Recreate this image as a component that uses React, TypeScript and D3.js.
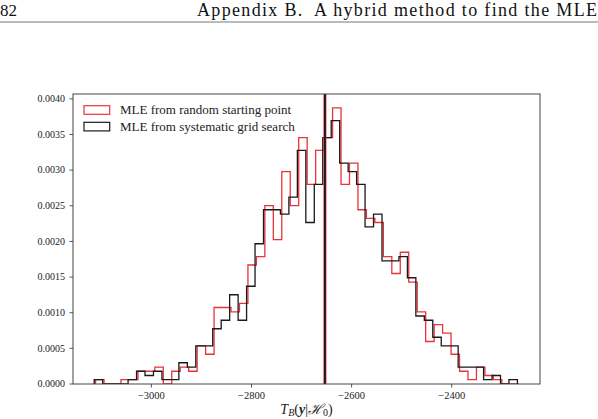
import React from 'react';
import * as d3 from 'd3';

const W = 598;
const H = 419;
const margin = { top: 94, right: 58, bottom: 35, left: 73 };

// histogram bins (density per bin)
const gridStart = -3114.2;
const randomStart = -3111.5;
const binWidth = 16.91;

const randomDensity = [
  0.00006, 0, 0, 0.00006, 0.00006, 0.000179, 0.000179, 0.000238, 0, 0.000179,
  0.000238, 0.000179, 0.000536, 0.000417, 0.001073, 0.001073, 0.001013, 0.001132, 0.001669, 0.001788,
  0.002503, 0.002026, 0.00298, 0.002503, 0.003457, 0.002801, 0.003278, 0.003457, 0.003874, 0.002801,
  0.003099, 0.002444, 0.002324, 0.002265, 0.001788, 0.00155, 0.001848, 0.00143, 0.001013, 0.000596,
  0.000834, 0.000715, 0.000417, 0.000179, 0.00006, 0.000238, 0.000119, 0.00006, 0, 0,
];

const gridDensity = [
  0.00006, 0, 0, 0, 0.00006, 0.000179, 0.000119, 0.000179, 0.00006, 0.00006,
  0.000298, 0.000238, 0.000536, 0.000536, 0.000775, 0.000894, 0.001252, 0.000894, 0.001371, 0.001967,
  0.002444, 0.002444, 0.002384, 0.002622, 0.003278, 0.002265, 0.002801, 0.003457, 0.003695, 0.003099,
  0.00298, 0.002801, 0.002205, 0.002384, 0.001728, 0.001728, 0.001788, 0.00149, 0.000954, 0.000894,
  0.000656, 0.000536, 0.000536, 0.000238, 0.000238, 0.000238, 0.00006, 0.000119, 0, 0.00006,
];

const mleValue = -2653.3;

const xTicks = [-3000, -2800, -2600, -2400];
const yTicks = [0, 0.0005, 0.001, 0.0015, 0.002, 0.0025, 0.003, 0.0035, 0.004];

const seriesNames = ['MLE from random starting point', 'MLE from systematic grid search'];
const seriesColors = ['#e8333a', '#1a1a1a'];

const font = '"Liberation Serif", "Times New Roman", serif';

export default function App() {
  const innerW = W - margin.left - margin.right;
  const innerH = H - margin.top - margin.bottom;

  const lo = Math.min(gridStart, randomStart);
  const hi = Math.max(gridStart + gridDensity.length * binWidth, randomStart + randomDensity.length * binWidth);
  const pad = (hi - lo) * 0.05;
  const x = d3.scaleLinear().domain([lo - pad, hi + pad]).range([0, innerW]);
  const yMax = d3.max([...gridDensity, ...randomDensity]) as number;
  const y = d3.scaleLinear().domain([0, yMax * 1.05]).range([innerH, 0]);

  const stepPath = (start: number, values: number[]) => {
    const pts: [number, number][] = [[start, 0]];
    values.forEach((v, i) => {
      pts.push([start + i * binWidth, v]);
      pts.push([start + (i + 1) * binWidth, v]);
    });
    pts.push([start + values.length * binWidth, 0]);
    return d3.line<[number, number]>().x((d) => x(d[0])).y((d) => y(d[1]))(pts) as string;
  };

  const fmtY = d3.format('.4f');
  const fmtX = (v: number) => (v < 0 ? '\u2212' + Math.abs(v) : String(v));

  return (
    <div style={{ position: 'fixed', left: 0, top: 0, width: W, height: H, background: '#fff' }}>
      <svg width={W} height={H} style={{ display: 'block' }} fontFamily={font}>
        {/* running page header */}
        <text x={0} y={15.5} fontSize={17} fill="#111">82</text>
        <text x={197} y={15.5} fontSize={18} fill="#111" textLength={400} lengthAdjust="spacing">
          Appendix B.{'\u2002'}A hybrid method to find the MLE
        </text>
        <line x1={0} x2={W} y1={22} y2={22} stroke="#777" strokeWidth={1} />

        <g transform={`translate(${margin.left},${margin.top})`}>
          <clipPath id="plot-clip">
            <rect x={0} y={0} width={innerW} height={innerH} />
          </clipPath>

          <g clipPath="url(#plot-clip)" fill="none" strokeWidth={1.3}>
            <path d={stepPath(randomStart, randomDensity)} stroke={seriesColors[0]} />
            <path d={stepPath(gridStart, gridDensity)} stroke={seriesColors[1]} />
            <line x1={x(mleValue)} x2={x(mleValue)} y1={0} y2={innerH} stroke={seriesColors[0]} strokeWidth={3} />
            <line x1={x(mleValue)} x2={x(mleValue)} y1={0} y2={innerH} stroke={seriesColors[1]} strokeWidth={1.8} />
          </g>

          {/* axes frame */}
          <rect x={0} y={0} width={innerW} height={innerH} fill="none" stroke="#444" strokeWidth={1} />

          {/* y axis */}
          {yTicks.map((t) => (
            <g key={t} transform={`translate(0,${y(t)})`}>
              <line x1={-3.5} x2={0} stroke="#444" strokeWidth={0.9} />
              <text x={-8} dy="0.33em" textAnchor="end" fontSize={10} fill="#222">{fmtY(t)}</text>
            </g>
          ))}

          {/* x axis */}
          {xTicks.map((t) => (
            <g key={t} transform={`translate(${x(t)},${innerH})`}>
              <line y1={0} y2={3.5} stroke="#444" strokeWidth={0.9} />
              <text y={14.5} textAnchor="middle" fontSize={10.5} fill="#222">{fmtX(t)}</text>
            </g>
          ))}

          <text x={innerW / 2} y={innerH + 29.5} textAnchor="middle" fontSize={14} fill="#222">
            <tspan fontStyle="italic">T</tspan>
            <tspan fontStyle="italic" fontSize={10} dy={2.5}>B</tspan>
            <tspan dy={-2.5}>(</tspan>
            <tspan fontStyle="italic" fontWeight="bold">y</tspan>
            <tspan>|</tspan>
            <tspan fontStyle="italic">{'\u210B'}</tspan>
            <tspan fontSize={10} dy={2.5}>0</tspan>
            <tspan dy={-2.5}>)</tspan>
          </text>

          {/* legend */}
          {seriesNames.map((name, i) => (
            <g key={name} transform={`translate(11,${11.7 + i * 16.6})`}>
              <rect x={0} y={0} width={25.7} height={8.6} fill="none" stroke={seriesColors[i]} strokeWidth={1.2} />
              <text x={36} y={8.3} fontSize={13} fill="#222">{name}</text>
            </g>
          ))}
        </g>
      </svg>
    </div>
  );
}
